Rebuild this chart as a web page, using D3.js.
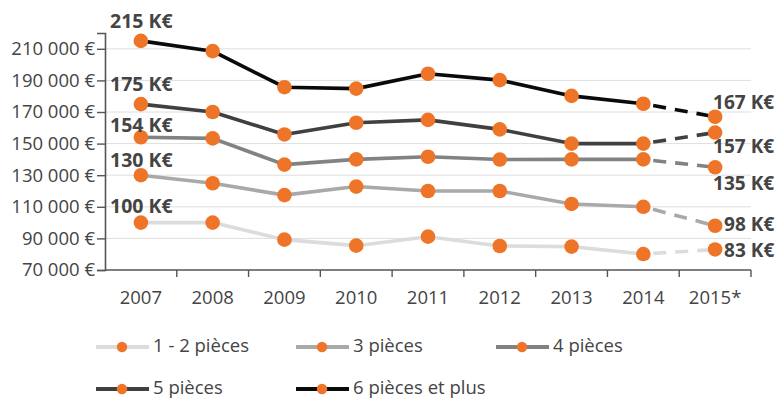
<!DOCTYPE html>
<html>
<head>
<meta charset="utf-8">
<script src="https://cdn.jsdelivr.net/npm/d3@7/dist/d3.min.js"></script>
<style>
  html, body { margin: 0; padding: 0; background: #fff; }
  svg { display: block; font-family: "Open Sans", "DejaVu Sans", sans-serif; }
</style>
</head>
<body>
<svg id="chart" width="779" height="398"></svg>
<script>
// Prix moyen des maisons selon le nombre de pièces
const years = ["2007", "2008", "2009", "2010", "2011", "2012", "2013", "2014", "2015*"];
const seriesNames = ["1 - 2 pièces", "3 pièces", "4 pièces", "5 pièces", "6 pièces et plus"];
const piece12 = [100000, 100000, 89200, 85400, 91100, 85200, 84800, 80100, 83000];
const piece3  = [130000, 124900, 117400, 122800, 120000, 120000, 111800, 110000, 98000];
const piece4  = [154000, 153300, 136700, 140000, 141700, 139900, 140000, 140000, 135000];
const piece5  = [175000, 170000, 155800, 163200, 165000, 159000, 150000, 150000, 157000];
const piece6  = [215000, 208500, 185700, 184800, 194200, 190200, 180200, 175200, 167000];
const yTicks  = [70000, 90000, 110000, 130000, 150000, 170000, 190000, 210000];

const seriesValues = [piece12, piece3, piece4, piece5, piece6];
const lineColors = ["#dcdcdc", "#a9a9a9", "#828282", "#404040", "#0a0a0a"];
const dotColor = "#ee7427";
const textColor = "#444";

const svg = d3.select("#chart");
const margin = { left: 105, right: 28, top: 33, bottom: 128 };
const W = 779, H = 398;

const x = d3.scaleBand().domain(years).range([margin.left, W - margin.right]);
const y = d3.scaleLinear().domain([70000, 220000]).range([H - margin.bottom, margin.top]);
const cx = d => x(d) + x.bandwidth() / 2;

const fmt = v => d3.format(",")(v).replace(/,/g, " ") + " €";

// grid lines
svg.append("g")
  .selectAll("line")
  .data(yTicks.slice(1))
  .join("line")
  .attr("x1", margin.left).attr("x2", W - margin.right)
  .attr("y1", d => y(d)).attr("y2", d => y(d))
  .attr("stroke", "#dedede").attr("stroke-width", 1);

// y axis
const yAxis = svg.append("g")
  .attr("transform", `translate(${margin.left},0)`)
  .call(d3.axisLeft(y).tickValues(yTicks).tickFormat(fmt).tickSize(8).tickPadding(2));
yAxis.select(".domain").attr("stroke", "#555").attr("stroke-width", 1.6);
yAxis.selectAll(".tick line").attr("stroke", "#555").attr("stroke-width", 1.4);
yAxis.selectAll("text").attr("fill", textColor).style("font-size", "18.5px")
  .style("font-family", "'Open Sans', sans-serif");

// x axis: ticks on band boundaries
const xAxisG = svg.append("g").attr("transform", `translate(0,${y(70000)})`);
xAxisG.append("line")
  .attr("x1", margin.left).attr("x2", W - margin.right)
  .attr("stroke", "#555").attr("stroke-width", 1.6);
xAxisG.selectAll("line.tk")
  .data(years)
  .join("line").attr("class", "tk")
  .attr("x1", d => x(d) + x.bandwidth()).attr("x2", d => x(d) + x.bandwidth())
  .attr("y1", 0).attr("y2", 7)
  .attr("stroke", "#555").attr("stroke-width", 1.4);
xAxisG.selectAll("text")
  .data(years)
  .join("text")
  .attr("x", d => cx(d)).attr("y", 34)
  .attr("text-anchor", "middle")
  .attr("fill", textColor).style("font-size", "18.5px")
  .text(d => d);

// lines: solid for observed years, dashed toward the 2015 estimate
const line = d3.line().x(d => cx(d.year)).y(d => y(d.v));
const lastIdx = years.length - 1;
seriesValues.forEach((vals, i) => {
  const pts = vals.map((v, j) => ({ year: years[j], v }));
  svg.append("path")
    .datum(pts.slice(0, lastIdx))
    .attr("d", line)
    .attr("fill", "none")
    .attr("stroke", lineColors[i]).attr("stroke-width", 3.6)
    .attr("stroke-linejoin", "round");
  svg.append("path")
    .datum(pts.slice(lastIdx - 1))
    .attr("d", line)
    .attr("fill", "none")
    .attr("stroke", lineColors[i]).attr("stroke-width", 3.6)
    .attr("stroke-dasharray", "13,9")
    .attr("stroke-dashoffset", -10);
});

// dots
seriesValues.forEach((vals) => {
  svg.append("g").selectAll("circle")
    .data(vals.map((v, j) => ({ year: years[j], v })))
    .join("circle")
    .attr("cx", d => cx(d.year)).attr("cy", d => y(d.v))
    .attr("r", 7.3)
    .attr("fill", dotColor);
});

// value labels for first and last year
const kLabel = v => Math.round(v / 1000) + " K€";
const firstLabelDy = [-10, -8.6, -5.4, -13.5, -13];
const lastLabelPos = [[9, 8], [9, 5.5], [-2, 23], [-2, 20], [-2, -7.6]];
seriesValues.forEach((vals, i) => {
  svg.append("text")
    .attr("x", margin.left + 5)
    .attr("y", y(vals[0]) + firstLabelDy[i])
    .attr("fill", textColor).style("font-size", "19.5px").style("font-weight", "bold")
    .text(kLabel(vals[0]));
  svg.append("text")
    .attr("x", cx(years[lastIdx]) + lastLabelPos[i][0])
    .attr("y", y(vals[lastIdx]) + lastLabelPos[i][1])
    .attr("fill", textColor).style("font-size", "19px").style("font-weight", "bold")
    .text(kLabel(vals[lastIdx]));
});

// legend
const legendPos = [[96, 347], [296, 347], [496, 347], [96, 389], [296, 389]];
seriesNames.forEach((name, i) => {
  const [lx, ly] = legendPos[i];
  const g = svg.append("g").attr("transform", `translate(${lx},${ly})`);
  g.append("line").attr("x1", 0).attr("x2", 53).attr("y1", 0).attr("y2", 0)
    .attr("stroke", lineColors[i]).attr("stroke-width", 3.8);
  g.append("circle").attr("cx", 26).attr("cy", 0).attr("r", 5.2).attr("fill", dotColor);
  g.append("text").attr("x", 57).attr("y", 4.5)
    .attr("fill", textColor).style("font-size", "18.5px")
    .text(name);
});
</script>
</body>
</html>
